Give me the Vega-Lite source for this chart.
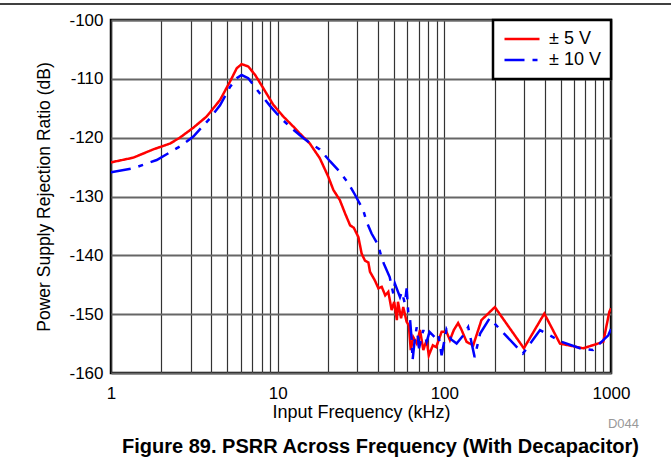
{
  "$schema": "https://vega.github.io/schema/vega-lite/v6.json",
  "width": 500,
  "height": 353,
  "autosize": {"type": "none"},
  "padding": {"left": 111, "top": 20, "right": 60, "bottom": 101},
  "background": "white",
  "title": {
    "text": "D044",
    "subtitle": "Figure 89. PSRR Across Frequency (With Decapacitor)",
    "orient": "bottom",
    "anchor": "end",
    "frame": "group",
    "dx": 28,
    "offset": -3,
    "font": "Liberation Sans",
    "fontSize": 13,
    "fontWeight": "normal",
    "color": "#999999",
    "subtitleFont": "Liberation Sans",
    "subtitleFontSize": 20,
    "subtitleFontWeight": "bold",
    "subtitleColor": "black",
    "subtitlePadding": 6
  },
  "config": {
    "font": "Liberation Sans",
    "view": {"stroke": "black", "strokeWidth": 2.5},
    "legend": {"strokeWidth": 2.5}
  },
  "data": {
    "values": [
      {"f": 1, "db": -124.2, "s": "± 5 V"},
      {"f": 1.36, "db": -123.4, "s": "± 5 V"},
      {"f": 1.79, "db": -122.0, "s": "± 5 V"},
      {"f": 2.26, "db": -121.0, "s": "± 5 V"},
      {"f": 2.59, "db": -120.0, "s": "± 5 V"},
      {"f": 3.12, "db": -118.3, "s": "± 5 V"},
      {"f": 3.75, "db": -116.4, "s": "± 5 V"},
      {"f": 4.51, "db": -113.6, "s": "± 5 V"},
      {"f": 5.17, "db": -110.5, "s": "± 5 V"},
      {"f": 5.68, "db": -108.2, "s": "± 5 V"},
      {"f": 6.08, "db": -107.5, "s": "± 5 V"},
      {"f": 6.66, "db": -107.9, "s": "± 5 V"},
      {"f": 7.31, "db": -109.3, "s": "± 5 V"},
      {"f": 8.2, "db": -111.6, "s": "± 5 V"},
      {"f": 9.41, "db": -114.4, "s": "± 5 V"},
      {"f": 10.8, "db": -116.4, "s": "± 5 V"},
      {"f": 12.4, "db": -118.1, "s": "± 5 V"},
      {"f": 13.6, "db": -119.3, "s": "± 5 V"},
      {"f": 15.6, "db": -121.0, "s": "± 5 V"},
      {"f": 17.9, "db": -123.5, "s": "± 5 V"},
      {"f": 20.1, "db": -126.6, "s": "± 5 V"},
      {"f": 21.6, "db": -128.9, "s": "± 5 V"},
      {"f": 23.6, "db": -130.6, "s": "± 5 V"},
      {"f": 25.4, "db": -132.9, "s": "± 5 V"},
      {"f": 27.2, "db": -134.9, "s": "± 5 V"},
      {"f": 28.6, "db": -135.3, "s": "± 5 V"},
      {"f": 30.5, "db": -136.9, "s": "± 5 V"},
      {"f": 31.9, "db": -139.7, "s": "± 5 V"},
      {"f": 33.4, "db": -140.9, "s": "± 5 V"},
      {"f": 35.0, "db": -141.2, "s": "± 5 V"},
      {"f": 35.8, "db": -142.8, "s": "± 5 V"},
      {"f": 38.2, "db": -144.2, "s": "± 5 V"},
      {"f": 40.2, "db": -145.6, "s": "± 5 V"},
      {"f": 42.1, "db": -145.35, "s": "± 5 V"},
      {"f": 44.2, "db": -146.8, "s": "± 5 V"},
      {"f": 46.1, "db": -146.2, "s": "± 5 V"},
      {"f": 48.3, "db": -149.3, "s": "± 5 V"},
      {"f": 50.0, "db": -147.9, "s": "± 5 V"},
      {"f": 51.9, "db": -151.0, "s": "± 5 V"},
      {"f": 52.7, "db": -147.9, "s": "± 5 V"},
      {"f": 55.0, "db": -150.7, "s": "± 5 V"},
      {"f": 56.7, "db": -148.8, "s": "± 5 V"},
      {"f": 59.4, "db": -151.3, "s": "± 5 V"},
      {"f": 61.2, "db": -151.9, "s": "± 5 V"},
      {"f": 62.9, "db": -156.1, "s": "± 5 V"},
      {"f": 65.1, "db": -153.9, "s": "± 5 V"},
      {"f": 68.3, "db": -155.0, "s": "± 5 V"},
      {"f": 71.5, "db": -152.7, "s": "± 5 V"},
      {"f": 74.8, "db": -156.1, "s": "± 5 V"},
      {"f": 78.3, "db": -154.4, "s": "± 5 V"},
      {"f": 80.7, "db": -157.0, "s": "± 5 V"},
      {"f": 85.3, "db": -155.3, "s": "± 5 V"},
      {"f": 89.4, "db": -155.6, "s": "± 5 V"},
      {"f": 96.3, "db": -153.0, "s": "± 5 V"},
      {"f": 103, "db": -153.0, "s": "± 5 V"},
      {"f": 108, "db": -154.4, "s": "± 5 V"},
      {"f": 114, "db": -152.7, "s": "± 5 V"},
      {"f": 121, "db": -151.5, "s": "± 5 V"},
      {"f": 127, "db": -152.7, "s": "± 5 V"},
      {"f": 136, "db": -154.7, "s": "± 5 V"},
      {"f": 149, "db": -155.3, "s": "± 5 V"},
      {"f": 167, "db": -151.0, "s": "± 5 V"},
      {"f": 201, "db": -148.8, "s": "± 5 V"},
      {"f": 300, "db": -155.8, "s": "± 5 V"},
      {"f": 398, "db": -149.9, "s": "± 5 V"},
      {"f": 494, "db": -155.0, "s": "± 5 V"},
      {"f": 682, "db": -155.8, "s": "± 5 V"},
      {"f": 899, "db": -154.7, "s": "± 5 V"},
      {"f": 977, "db": -149.6, "s": "± 5 V"},
      {"f": 1000, "db": -149.0, "s": "± 5 V"},
      {"f": 1, "db": -125.9, "s": "± 10 V"},
      {"f": 1.36, "db": -125.2, "s": "± 10 V"},
      {"f": 1.88, "db": -123.8, "s": "± 10 V"},
      {"f": 2.59, "db": -121.5, "s": "± 10 V"},
      {"f": 3.12, "db": -119.8, "s": "± 10 V"},
      {"f": 3.93, "db": -116.7, "s": "± 10 V"},
      {"f": 4.51, "db": -114.5, "s": "± 10 V"},
      {"f": 5.17, "db": -111.4, "s": "± 10 V"},
      {"f": 5.68, "db": -109.9, "s": "± 10 V"},
      {"f": 6.08, "db": -109.35, "s": "± 10 V"},
      {"f": 6.66, "db": -109.9, "s": "± 10 V"},
      {"f": 7.83, "db": -112.5, "s": "± 10 V"},
      {"f": 9.0, "db": -114.6, "s": "± 10 V"},
      {"f": 10.3, "db": -116.5, "s": "± 10 V"},
      {"f": 12.1, "db": -118.4, "s": "± 10 V"},
      {"f": 14.3, "db": -120.1, "s": "± 10 V"},
      {"f": 15.6, "db": -120.9, "s": "± 10 V"},
      {"f": 17.9, "db": -122.0, "s": "± 10 V"},
      {"f": 20.6, "db": -124.0, "s": "± 10 V"},
      {"f": 23.6, "db": -125.8, "s": "± 10 V"},
      {"f": 26.5, "db": -127.7, "s": "± 10 V"},
      {"f": 29.1, "db": -129.7, "s": "± 10 V"},
      {"f": 32.6, "db": -132.3, "s": "± 10 V"},
      {"f": 34.2, "db": -134.3, "s": "± 10 V"},
      {"f": 36.6, "db": -136.3, "s": "± 10 V"},
      {"f": 40.2, "db": -138.3, "s": "± 10 V"},
      {"f": 42.1, "db": -140.5, "s": "± 10 V"},
      {"f": 43.5, "db": -141.5, "s": "± 10 V"},
      {"f": 47.0, "db": -143.7, "s": "± 10 V"},
      {"f": 49.4, "db": -146.5, "s": "± 10 V"},
      {"f": 50.5, "db": -144.8, "s": "± 10 V"},
      {"f": 54.2, "db": -147.1, "s": "± 10 V"},
      {"f": 55.6, "db": -146.2, "s": "± 10 V"},
      {"f": 58.0, "db": -148.2, "s": "± 10 V"},
      {"f": 59.4, "db": -145.6, "s": "± 10 V"},
      {"f": 60.8, "db": -149.9, "s": "± 10 V"},
      {"f": 62.2, "db": -150.7, "s": "± 10 V"},
      {"f": 63.7, "db": -154.4, "s": "± 10 V"},
      {"f": 64.5, "db": -157.8, "s": "± 10 V"},
      {"f": 66.7, "db": -153.9, "s": "± 10 V"},
      {"f": 68.3, "db": -152.2, "s": "± 10 V"},
      {"f": 70.5, "db": -155.8, "s": "± 10 V"},
      {"f": 74.8, "db": -152.7, "s": "± 10 V"},
      {"f": 78.3, "db": -154.7, "s": "± 10 V"},
      {"f": 81.5, "db": -153.0, "s": "± 10 V"},
      {"f": 87.5, "db": -153.9, "s": "± 10 V"},
      {"f": 91.9, "db": -153.3, "s": "± 10 V"},
      {"f": 96.3, "db": -157.0, "s": "± 10 V"},
      {"f": 103, "db": -152.6, "s": "± 10 V"},
      {"f": 110, "db": -154.3, "s": "± 10 V"},
      {"f": 118.5, "db": -155.0, "s": "± 10 V"},
      {"f": 130, "db": -153.6, "s": "± 10 V"},
      {"f": 139, "db": -152.2, "s": "± 10 V"},
      {"f": 152, "db": -157.3, "s": "± 10 V"},
      {"f": 164, "db": -153.3, "s": "± 10 V"},
      {"f": 187, "db": -150.7, "s": "± 10 V"},
      {"f": 296, "db": -156.7, "s": "± 10 V"},
      {"f": 375, "db": -152.7, "s": "± 10 V"},
      {"f": 506, "db": -154.7, "s": "± 10 V"},
      {"f": 651, "db": -155.8, "s": "± 10 V"},
      {"f": 779, "db": -156.1, "s": "± 10 V"},
      {"f": 963, "db": -153.6, "s": "± 10 V"},
      {"f": 1000, "db": -152.5, "s": "± 10 V"}
    ]
  },
  "layer": [
    {
      "data": {"values": [{"y": -97.28, "x0": 0.2, "x1": 2500}]},
      "mark": {"type": "rule", "color": "black", "strokeWidth": 1.5, "clip": false},
      "encoding": {
        "y": {"field": "y", "type": "quantitative", "scale": {"domain": [-160, -100], "nice": false}},
        "x": {"field": "x0", "type": "quantitative", "scale": {"type": "log", "domain": [1, 1000], "nice": false}},
        "x2": {"field": "x1"}
      }
    },
    {
      "mark": {"type": "line", "strokeWidth": 2.5, "clip": true},
      "encoding": {
        "x": {
          "field": "f",
          "type": "quantitative",
          "scale": {"type": "log", "domain": [1, 1000], "nice": false},
          "axis": {
            "title": "Input Frequency (kHz)",
            "values": [1, 2, 3, 4, 5, 6, 7, 8, 9, 10, 20, 30, 40, 50, 60, 70, 80, 90, 100, 200, 300, 400, 500, 600, 700, 800, 900, 1000],
            "labelExpr": "(datum.value == 1 || datum.value == 10 || datum.value == 100 || datum.value == 1000) ? ('' + datum.value) : ''",
            "labelFlush": false,
            "labelOverlap": false,
            "ticks": false,
            "domain": false,
            "grid": true,
            "gridColor": "#333333",
            "gridWidth": 1.2,
            "labelFontSize": 17,
            "labelColor": "black",
            "labelPadding": 12,
            "titleFontSize": 18,
            "titleFontWeight": "normal",
            "titleColor": "black",
            "titlePadding": 2
          }
        },
        "y": {
          "field": "db",
          "type": "quantitative",
          "scale": {"domain": [-160, -100], "nice": false},
          "axis": {
            "title": "Power Supply Rejection Ratio (dB)",
            "values": [-160, -150, -140, -130, -120, -110, -100],
            "labelExpr": "'' + datum.value",
            "ticks": false,
            "domain": false,
            "grid": true,
            "gridColor": "#666666",
            "gridWidth": 1.8,
            "labelFontSize": 17,
            "labelColor": "black",
            "labelPadding": 8,
            "titleFontSize": 17.5,
            "titleFontWeight": "normal",
            "titleColor": "black",
            "titlePadding": 15
          }
        },
        "color": {
          "field": "s",
          "type": "nominal",
          "scale": {"domain": ["± 5 V", "± 10 V"], "range": ["#ff0000", "#0000ff"]},
          "legend": {
            "title": null,
            "orient": "top-right",
            "offset": 0,
            "padding": 10,
            "strokeColor": "black",
            "fillColor": "white",
            "symbolType": "stroke",
            "symbolSize": 1225,
            "symbolStrokeWidth": 2.5,
            "clipHeight": 18,
            "labelFontSize": 18,
            "labelColor": "black",
            "labelOffset": 8,
            "rowPadding": 3
          }
        },
        "strokeDash": {
          "field": "s",
          "type": "nominal",
          "scale": {"domain": ["± 5 V", "± 10 V"], "range": [[1, 0], [20, 8, 5, 8]]},
          "legend": null
        }
      }
    }
  ]
}
